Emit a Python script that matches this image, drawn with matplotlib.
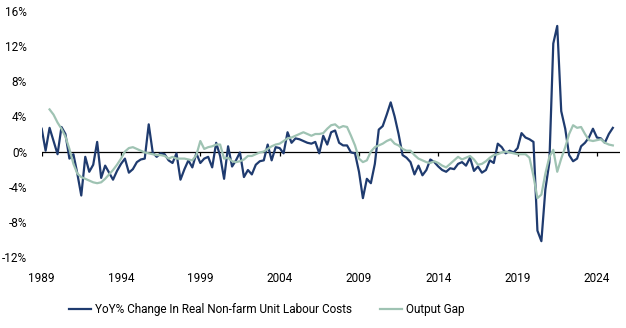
import numpy as np
import pandas as pd
import matplotlib
matplotlib.use('Agg')
import matplotlib.pyplot as plt

# quarterly data, 1989Q1 - 2025Q1 (values in %)
ulc_yoy = [
    2.6, 0.1, 2.7, 1.2, -0.3, 2.8, 2.0, -0.8, -0.3, -2.5,
    -5.0, -0.6, -2.3, -1.5, 1.1, -3.0, -1.6, -2.4, -3.2, -2.2,
    -1.4, -0.8, -2.4, -2.0, -1.2, -0.9, -0.8, 3.1, -0.1, -0.6,
    -0.2, -0.3, -1.0, -1.3, -0.2, -3.2, -2.0, -1.0, -1.8, -0.2,
    -1.3, -0.8, -0.6, -1.8, 1.0, -0.5, -3.1, 0.6, -1.7, -1.0,
    -0.1, -2.9, -2.1, -2.6, -1.5, -1.1, -1.0, 0.8, -1.0, 0.5,
    0.4, -0.2, 2.2, 1.0, 1.5, 1.4, 1.2, 1.0, 0.9, 1.1,
    -0.2, 1.8, 0.8, 2.2, 2.4, 1.0, 0.7, 0.7, -0.1, -0.2,
    -2.3, -5.3, -3.1, -3.6, -1.4, 2.5, 2.9, 4.2, 5.6, 4.0,
    2.0, -0.4, -0.7, -1.2, -2.6, -1.6, -2.7, -2.1, -0.9, -1.2,
    -1.7, -2.1, -2.3, -1.9, -2.0, -1.4, -1.2, -1.6, -0.7, -2.2,
    -1.7, -2.4, -2.1, -1.0, -1.3, 0.9, 0.5, -0.2, 0.1, -0.1,
    0.4, 2.1, 1.6, 1.4, 1.1, -9.0, -10.2, -4.3, -1.2, 12.3,
    14.3, 4.6, 2.6, -0.4, -1.1, -0.8, 0.6, 1.0, 1.6, 2.6,
    1.6, 1.5, 1.0, 2.0, 2.7,
]
output_gap = [
    np.nan, np.nan, 4.8, 4.2, 3.3, 2.6, 1.7, 0.3, -1.4, -2.5,
    -2.9, -3.1, -3.3, -3.5, -3.6, -3.5, -3.1, -2.6, -2.1, -1.5,
    -0.8, 0.0, 0.4, 0.5, 0.3, 0.1, -0.1, -0.2, -0.3, -0.4,
    -0.4, -0.5, -0.8, -0.6, -0.8, -0.8, -0.8, -0.9, -1.0, -0.4,
    1.2, 0.3, 0.5, 0.6, 0.8, 0.8, -0.8, -0.7, -1.1, -1.2,
    -1.1, -0.9, -0.5, -0.5, -0.3, -0.1, 0.0, 0.3, 0.6, 0.8,
    0.9, 1.2, 1.5, 1.6, 1.8, 2.0, 2.2, 2.0, 1.8, 2.0,
    2.0, 2.1, 2.6, 3.0, 3.1, 2.7, 2.9, 2.8, 1.8, 0.7,
    -0.8, -1.2, -1.0, 0.0, 0.5, 0.7, 0.9, 1.2, 1.4, 0.9,
    0.7, 0.3, 0.1, 0.1, -0.4, -0.8, -1.0, -1.2, -1.3, -1.1,
    -1.3, -1.6, -1.8, -1.4, -1.0, -0.6, -0.9, -0.7, -0.5, -0.9,
    -1.5, -1.4, -1.1, -0.7, -0.4, -0.3, -0.1, 0.0, -0.1, -0.2,
    -0.3, -0.3, -0.3, -0.7, -2.8, -5.3, -4.9, -2.5, -0.6, 0.2,
    -2.3, -0.8, 0.5, 2.0, 3.0, 2.7, 2.8, 2.0, 1.3, 1.2,
    1.3, 1.4, 1.0, 0.8, 0.7,
]
dates = pd.date_range('1989-01-01', periods=len(ulc_yoy), freq='QS')

tick_years = [1989, 1994, 1999, 2004, 2009, 2014, 2019, 2024]
y_ticks = [-12, -8, -4, 0, 4, 8, 12, 16]
labels = ['YoY% Change In Real Non-farm Unit Labour Costs', 'Output Gap']

navy = '#1f3b6f'
sage = '#9fc3b3'

plt.rcParams['font.family'] = ['Roboto', 'DejaVu Sans']
plt.rcParams['font.size'] = 8.5

fig = plt.figure(figsize=(6.26, 3.28), dpi=100)
ax = fig.add_axes([41.7 / 626, 1 - 257 / 328, (620 - 41.7) / 626, 246 / 328])

# zero line with small ticks hanging below it
ax.axhline(0, color='black', lw=0.9, zorder=1)
tick_dates = [pd.Timestamp(f'{y}-01-01') for y in tick_years]
ax.vlines(tick_dates, -0.5, 0, color='black', lw=0.9, zorder=1)

ax.plot(dates, ulc_yoy, color=navy, lw=1.6, label=labels[0], zorder=2)
ax.plot(dates, output_gap, color=sage, lw=1.6, label=labels[1], zorder=3)

ax.set_xlim(pd.Timestamp('1989-01-01'), pd.Timestamp('2025-06-15'))
ax.set_ylim(-12, 16)
ax.set_xticks(tick_dates)
ax.set_xticklabels([str(y) for y in tick_years])
ax.set_yticks(y_ticks)
ax.set_yticklabels([f'{v}%' for v in y_ticks])
ax.tick_params(axis='both', length=0, colors='black')
ax.tick_params(axis='x', pad=10.5)
ax.tick_params(axis='y', pad=10.5)
for s in ax.spines.values():
    s.set_visible(False)
ax.patch.set_alpha(0)

fig.legend(loc='center left', bbox_to_anchor=(58 / 626, 1 - 310 / 328), ncol=2,
           frameon=False, handlelength=1.9, handletextpad=0.3, columnspacing=2.4)

fig.savefig('out.png', dpi=100)
